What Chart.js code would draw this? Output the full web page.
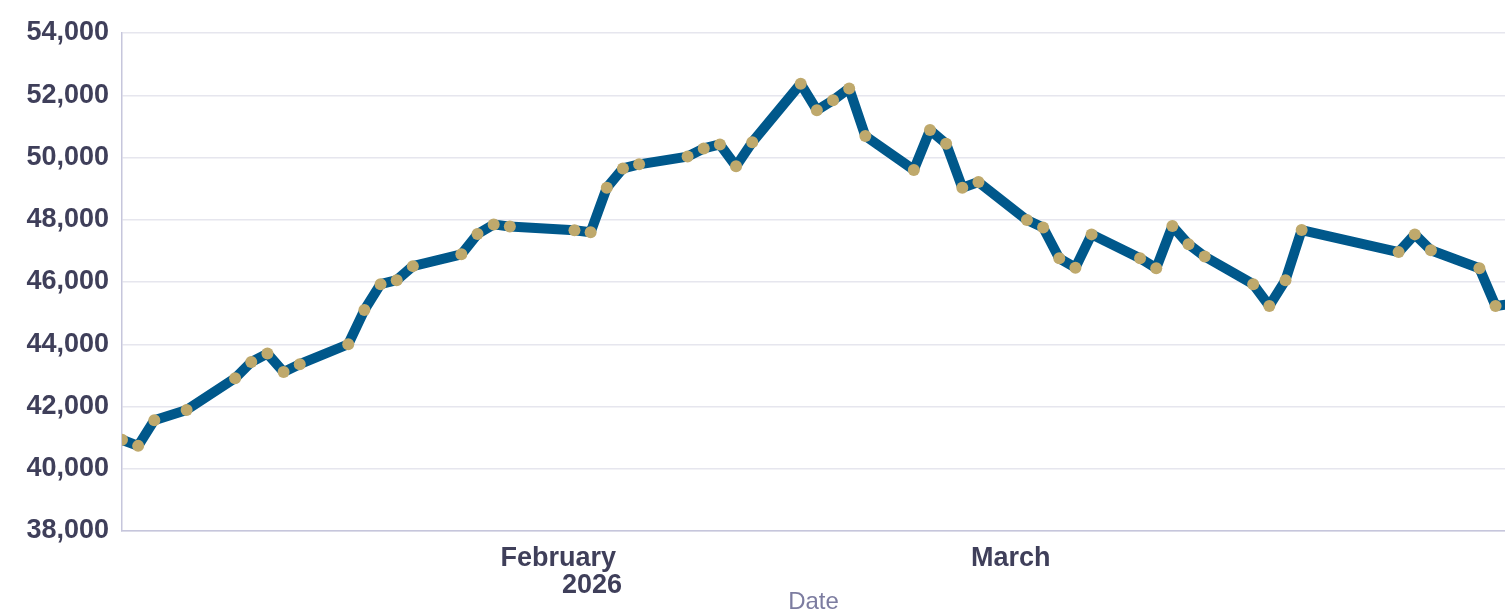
<!DOCTYPE html>
<html>
<head>
<meta charset="utf-8">
<script src="https://cdn.jsdelivr.net/npm/chart.js@4.4.1/dist/chart.umd.min.js"></script>
<style>
  html, body { margin: 0; padding: 0; background: #fff; }
  #wrap { width: 1505px; height: 613px; }
</style>
</head>
<body>
<div id="wrap"><canvas id="priceChart"></canvas></div>
<script>
// Trading days and closing values
const dates = [
  "2026-01-05", "2026-01-06", "2026-01-07", "2026-01-09", "2026-01-12", "2026-01-13", "2026-01-14", "2026-01-15",
  "2026-01-16", "2026-01-19", "2026-01-20", "2026-01-21", "2026-01-22", "2026-01-23", "2026-01-26", "2026-01-27",
  "2026-01-28", "2026-01-29", "2026-02-02", "2026-02-03", "2026-02-04", "2026-02-05", "2026-02-06", "2026-02-09",
  "2026-02-10", "2026-02-11", "2026-02-12", "2026-02-13", "2026-02-16", "2026-02-17", "2026-02-18", "2026-02-19",
  "2026-02-20", "2026-02-23", "2026-02-24", "2026-02-25", "2026-02-26", "2026-02-27", "2026-03-02", "2026-03-03",
  "2026-03-04", "2026-03-05", "2026-03-06", "2026-03-09", "2026-03-10", "2026-03-11", "2026-03-12", "2026-03-13",
  "2026-03-16", "2026-03-17", "2026-03-18", "2026-03-19", "2026-03-25", "2026-03-26", "2026-03-27", "2026-03-30",
  "2026-03-31", "2026-04-01"
];
const values = [
  40930, 40735, 41560, 41890, 42910, 43430, 43700, 43110,
  43360, 44000, 45100, 45930, 46060, 46510, 46890, 47540,
  47850, 47780, 47660, 47600, 49030, 49650, 49780, 50030,
  50290, 50420, 49720, 50490, 52370, 51520, 51840, 52220,
  50690, 49600, 50880, 50440, 49030, 49210, 47990, 47750,
  46760, 46460, 47530, 46760, 46440, 47800, 47210, 46820,
  45930, 45230, 46060, 47670, 46960, 47530, 47020, 46440,
  45230, 45300
];
const monthTickDates = ["2026-02-01", "2026-03-01"];
const monthTickLabels = [["February", "         2026"], "March"];
const rangeStart = "2026-01-05";
const rangeEnd = "2026-03-31T14:00";
const yTicks = [38000, 40000, 42000, 44000, 46000, 48000, 50000, 52000, 54000];

// days since the first date, so the linear x axis keeps the calendar gaps
const DAY = 86400000;
const t0 = Date.parse(rangeStart + "T00:00Z");
const dayOf = d => (Date.parse((d.length === 10 ? d + "T00:00" : d) + "Z") - t0) / DAY;

const points = dates.map((d, i) => ({ x: dayOf(d), y: values[i] }));
const monthTicks = monthTickDates.map(dayOf);

const inkColor = "#3f3f5a";
const axisColor = "#c6c6dc";
const font = "'Liberation Sans', Arial, sans-serif";

new Chart(document.getElementById("priceChart"), {
  type: "line",
  data: {
    datasets: [{
      label: "Value",
      data: points,
      borderColor: "#00588b",
      borderWidth: 10,
      borderJoinStyle: "round",
      pointRadius: 6,
      pointBackgroundColor: "#bfa96c",
      pointBorderWidth: 0,
      pointHoverRadius: 6,
      tension: 0
    }]
  },
  options: {
    responsive: true,
    maintainAspectRatio: false,
    animation: false,
    layout: { autoPadding: false, padding: { top: 33, right: 0, bottom: 0, left: 0 } },
    plugins: {
      legend: { display: false },
      tooltip: { enabled: false }
    },
    scales: {
      x: {
        type: "linear",
        min: 0,
        max: dayOf(rangeEnd),
        grid: { display: false, drawTicks: false },
        border: { color: axisColor, width: 1.5 },
        afterBuildTicks: scale => { scale.ticks = monthTicks.map(v => ({ value: v })); },
        afterFit: scale => { scale.height = 82; },
        ticks: {
          autoSkip: false,
          maxRotation: 0,
          padding: 14,
          color: inkColor,
          font: { family: font, size: 27, weight: "bold", lineHeight: 1.0 },
          callback: value => {
            const i = monthTicks.indexOf(value);
            return i === -1 ? "" : monthTickLabels[i];
          }
        },
        title: {
          display: true,
          text: "Date",
          color: "#7c7ca0",
          font: { family: font, size: 24, lineHeight: 1 },
          padding: { top: 0, bottom: -1 }
        }
      },
      y: {
        min: yTicks[0],
        max: yTicks[yTicks.length - 1],
        afterBuildTicks: scale => { scale.ticks = yTicks.map(v => ({ value: v })); },
        afterFit: scale => { scale.width = 122; },
        grid: { color: "#e6e6ee", lineWidth: 1.5, drawTicks: false },
        border: { color: axisColor, width: 1.5 },
        ticks: {
          padding: 13,
          color: inkColor,
          font: { family: font, size: 27, weight: "bold" },
          callback: v => v.toLocaleString("en-US")
        }
      }
    }
  }
});
</script>
</body>
</html>
